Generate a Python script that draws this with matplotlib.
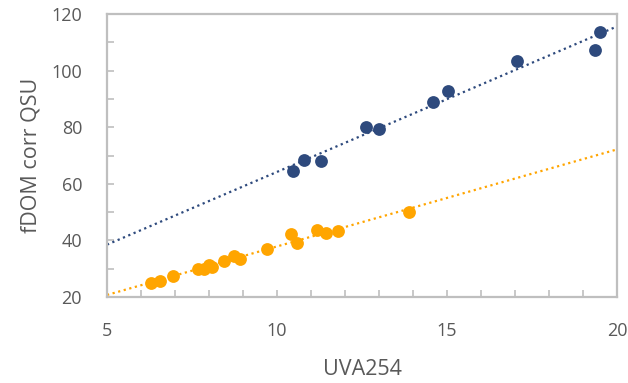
import numpy as np
import matplotlib
matplotlib.use("Agg")
import matplotlib.pyplot as plt
from matplotlib.ticker import MultipleLocator

# data
blue_x = [10.46, 10.79, 11.30, 12.61, 12.99, 14.59, 15.02, 17.07, 19.36, 19.50]
blue_y = [64.6, 68.3, 68.2, 80.1, 79.4, 88.8, 92.9, 103.3, 107.4, 113.7]

orange_x = [6.28, 6.55, 6.95, 7.69, 7.86, 8.01, 8.08, 8.44, 8.74, 8.92,
            9.70, 10.41, 10.59, 11.19, 11.44, 11.80, 13.89]
orange_y = [24.8, 25.8, 27.4, 29.8, 29.9, 31.3, 30.5, 32.7, 34.6, 33.3,
            37.0, 42.2, 39.0, 43.7, 42.5, 43.3, 49.9]

x_ticks = [5, 10, 15, 20]
y_ticks = [20, 40, 60, 80, 100, 120]

BLUE = "#2E4A7D"
ORANGE = "#FFA500"
GRID = "#BFBFBF"
TXT = "#595959"

plt.rcParams['font.family'] = ['Open Sans', 'DejaVu Sans']

fig = plt.figure(figsize=(6.28, 3.83), dpi=100)
ax = fig.add_axes([0.1704, 0.2245, 0.8121, 0.7389])

ax.scatter(blue_x, blue_y, s=85, color=BLUE, zorder=3, linewidths=0)
ax.scatter(orange_x, orange_y, s=85, color=ORANGE, zorder=3, linewidths=0)

# linear trendlines, like Excel
xs = np.array([5, 20])
for xv, yv, c in [(blue_x, blue_y, BLUE), (orange_x, orange_y, ORANGE)]:
    k, b = np.polyfit(xv, yv, 1)
    ax.plot(xs, k * xs + b, color=c, linewidth=1.6, linestyle=(0, (1, 1.6)), zorder=2)

ax.set_xlim(5, 20)
ax.set_ylim(20, 120)
ax.set_xticks(x_ticks)
ax.set_yticks(y_ticks)
ax.xaxis.set_minor_locator(MultipleLocator(1))
ax.yaxis.set_minor_locator(MultipleLocator(10))

for s in ax.spines.values():
    s.set_color(GRID)
    s.set_linewidth(1.6)

ax.tick_params(which='both', direction='in', color=GRID, width=1.2, length=5,
               labelcolor=TXT, labelsize=13)
ax.tick_params(axis='x', which='both', top=False, pad=18)
ax.tick_params(axis='y', which='both', right=False, pad=18)

ax.set_xlabel("UVA254", fontsize=15.5, color=TXT, labelpad=14)
ax.set_ylabel("fDOM corr QSU", fontsize=15.5, color=TXT, labelpad=7)

fig.savefig("out.png", dpi=100)
